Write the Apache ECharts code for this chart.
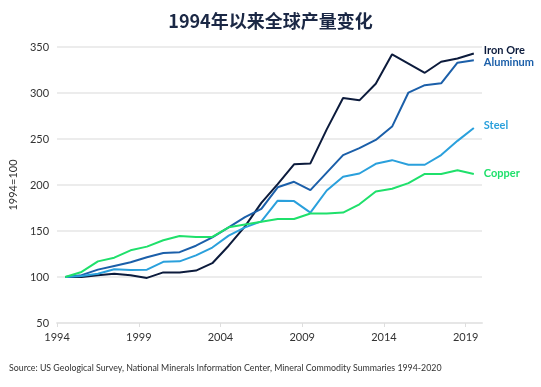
<!DOCTYPE html>
<html><head><meta charset="utf-8">
<script src="https://cdn.jsdelivr.net/npm/echarts@6/dist/echarts.min.js"></script>
<style>html,body{margin:0;padding:0;background:#fff}#c{width:541px;height:387px}</style>
</head><body><div id="c"></div>
<script>
const titleText = '1994年以来全球产量变化';
const sourceText = 'Source: US Geological Survey, National Minerals Information Center, Mineral Commodity Summaries 1994-2020';
const years = [1994,1995,1996,1997,1998,1999,2000,2001,2002,2003,2004,2005,2006,2007,2008,2009,2010,2011,2012,2013,2014,2015,2016,2017,2018,2019];
const xTickLabels = [1994,1999,2004,2009,2014,2019];
const ironOre  = [100,100,102,103.5,102,99,105,105,107,115,134,155,180.5,201,222.5,223.5,260.5,294.5,292,310,342,332,322,334,337.5,343];
const aluminum = [100,102,108,112,116,121.5,126,127,134,143,154,165,174,197.5,203.5,194.5,213.5,232.5,240,249,263.5,300.5,308.5,310.5,333,335.5];
const steel    = [100,101,103.5,108.5,107.5,108,116.5,117,123.5,132,145,154,160.5,183,182.5,170,194,209,212.5,223,227,222,222,232.5,248,262];
const copper   = [100,105.5,117,121,129,133,140,144.5,143.5,143.5,154,157,160,163,163,169,169,170,179,193,196,202,212,212,216,212];
const seriesDefs = [
  {name:'Iron Ore', data: ironOre, color:'#0c1b3c', offset:[0,-3]},
  {name:'Aluminum', data: aluminum, color:'#1b5fa9', offset:[0,2]},
  {name:'Steel', data: steel, color:'#2aa0dc', offset:[0,-3]},
  {name:'Copper', data: copper, color:'#1fe06b', offset:[0,-1]}
];
const font = 'Lato, "Noto Sans", sans-serif';
const chart = echarts.init(document.getElementById('c'), null, {renderer:'canvas'});
chart.setOption({
  animation:false,
  backgroundColor:'#fff',
  title:[
    {text:titleText, left:'center', top:7, textStyle:{fontSize:18, fontWeight:'bold', color:'#1b2845', fontFamily:'"Noto Sans CJK SC", sans-serif'}},
    {text:sourceText, left:4, top:359, textStyle:{fontSize:8.8, fontWeight:'normal', color:'#333', fontFamily:font}}
  ],
  grid:{left:44, right:59, top:47, bottom:64, containLabel:false},
  xAxis:[
    {type:'category', data:years.map(String), boundaryGap:true, show:false},
    {type:'value', min:years[0], max:years[years.length-1]+1, position:'bottom',
     axisLine:{show:true, lineStyle:{color:'#e6e6e6', width:2}},
     axisTick:{show:true, customValues:xTickLabels, length:4, lineStyle:{color:'#dedede', width:1}},
     axisLabel:{customValues:xTickLabels, formatter:v=>String(v), color:'#333', fontSize:11, margin:9, fontFamily:font},
     splitLine:{show:false}}
  ],
  yAxis:{type:'value', min:50, max:350, interval:50,
    name:'1994=100', nameLocation:'middle', nameRotate:90, nameGap:30,
    nameTextStyle:{color:'#333', fontSize:11, fontFamily:font},
    axisLine:{show:false}, axisTick:{show:false},
    axisLabel:{color:'#333', fontSize:11, margin:8, fontFamily:font},
    splitLine:{lineStyle:{color:'#ececec', width:2}}},
  series: seriesDefs.map(s=>({
    type:'line', name:s.name, data:s.data, xAxisIndex:0, yAxisIndex:0,
    symbol:'none', smooth:false,
    lineStyle:{color:s.color, width:2}, itemStyle:{color:s.color},
    endLabel:{show:true, formatter:s.name, color:s.color, fontSize:11, fontWeight:'bold', distance:10, offset:s.offset, fontFamily:font}
  }))
});
</script>
</body></html>
